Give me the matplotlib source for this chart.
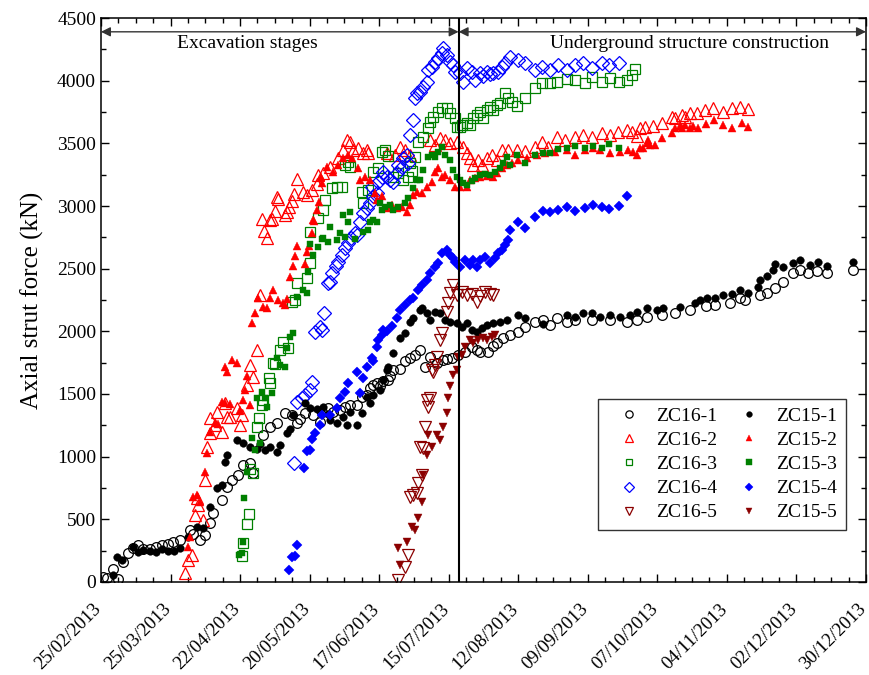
import datetime
import numpy as np
import matplotlib
matplotlib.use("Agg")
import matplotlib.pyplot as plt
import matplotlib.dates as mdates
from matplotlib.ticker import FixedLocator, MultipleLocator
from matplotlib.transforms import ScaledTranslation

plt.rcParams['font.family'] = ['Liberation Serif', 'DejaVu Serif']

# (days after 25/02/2013, axial force in kN)
zc16_1 = [(0.8, 40), (2.3, 34), (4.8, 104), (6.8, 20), (8.9, 160), (11, 230), (13, 270), (14.9, 295),
          (17, 260), (19.7, 263), (22, 280), (24.6, 295), (27, 300), (29, 320), (31.8, 335), (35.8, 415),
          (37, 380), (39.9, 335), (41.9, 375), (43.9, 470), (45.1, 550), (48.7, 655), (50.7, 760),
          (52.7, 815), (55.2, 855), (57.2, 935), (60, 950), (61.2, 870), (65.2, 1170), (68, 1240),
          (70.9, 1270), (74.1, 1350), (76.9, 1330), (78.9, 1270), (80.1, 1300), (82.1, 1350), (85.3, 1330),
          (88.2, 1280), (89, 1355), (91.4, 1390), (93.4, 1360), (96.2, 1370), (98.2, 1400), (100.2, 1410),
          (103.1, 1410), (105.1, 1475), (107.1, 1490), (108.3, 1550), (109.5, 1570), (111.1, 1590),
          (112.3, 1560), (113.5, 1600), (115.5, 1610), (116.3, 1640), (117.6, 1690), (120.4, 1700),
          (122.4, 1760), (124.4, 1790), (126.4, 1810), (128.4, 1850), (130.4, 1715), (132.5, 1795),
          (135.3, 1750), (137.7, 1770), (139.3, 1780), (141.3, 1790), (143.7, 1810), (146.5, 1835),
          (149.4, 1875), (151.4, 1850), (152.6, 1835), (155.8, 1835), (157.8, 1880), (159.4, 1905),
          (161.8, 1945), (164.7, 1970), (167.9, 1995), (170.7, 2035), (174.7, 2075), (177.9, 2090),
          (180.8, 2050), (183.6, 2105), (187.6, 2075), (190.8, 2090), (197.7, 2090), (204.9, 2090),
          (211.8, 2075), (215.8, 2090), (219.8, 2115), (225.9, 2130), (231.1, 2150), (237.1, 2170),
          (243.6, 2200), (247.2, 2210), (253.2, 2225), (257.3, 2265), (259.3, 2250), (265.3, 2290),
          (268.1, 2305), (271.3, 2345), (274.6, 2395), (278.6, 2465), (281.4, 2490), (284.6, 2465),
          (288.3, 2480), (292.3, 2465), (302.7, 2490)]

zc15_1 = [(4.8, 55), (6.4, 200), (8.5, 175), (12.9, 280), (14.9, 240), (16.9, 255), (19.7, 250),
          (22, 240), (24.6, 265), (27, 245), (29.5, 250), (31.8, 270), (35, 360), (38.6, 440),
          (41.1, 430), (43.9, 600), (46.7, 750), (48.7, 775), (49.9, 960), (50.7, 1010), (54.8, 1130),
          (57.2, 1110), (60, 1080), (62.8, 1060), (64, 1100), (66, 1050), (68, 1080), (70.9, 1040),
          (72.1, 1090), (74.9, 1190), (76.1, 1220), (77.3, 1330), (82.1, 1430), (84.1, 1390), (87, 1380),
          (89.4, 1400), (91.4, 1340), (92.2, 1290), (95, 1270), (97.4, 1320), (99, 1250), (100.2, 1355),
          (103.1, 1250), (105.1, 1350), (107.1, 1475), (108.3, 1430), (109.5, 1490), (112.3, 1530),
          (113.5, 1610), (115.1, 1690), (115.5, 1715), (117.6, 1825), (120.4, 1945), (122.4, 1990),
          (124.4, 2075), (125.6, 2105), (128.4, 2170), (129.2, 2185), (131.2, 2145), (132.5, 2090),
          (134.5, 2155), (136.5, 2145), (138.5, 2090), (140.5, 2075), (143.3, 2065), (145.3, 2035),
          (147.3, 2065), (149.4, 2010), (151.4, 1995), (153.4, 2025), (155.4, 2050), (157.8, 2065),
          (160.6, 2075), (163.5, 2090), (167.9, 2130), (170.7, 2105), (177.9, 2060), (187.6, 2130),
          (190.8, 2115), (194, 2145), (197.7, 2145), (200.9, 2115), (204.9, 2130), (208.9, 2115),
          (213, 2130), (215.8, 2155), (219.8, 2185), (223.8, 2170), (226.3, 2185), (233.1, 2195),
          (239.1, 2225), (241.1, 2250), (244, 2265), (247.2, 2265), (250.4, 2290), (254, 2300),
          (257.3, 2330), (260.5, 2305), (264.5, 2355), (265.3, 2410), (268.1, 2440), (270.5, 2490),
          (271.3, 2535), (274.6, 2515), (278.6, 2545), (281.4, 2570), (285.4, 2530), (288.7, 2555),
          (292.3, 2520), (302.7, 2555)]

zc16_2 = [(33.8, 70), (35, 175), (36.6, 215), (37.8, 535), (39, 615), (38.6, 670), (41.1, 495),
          (41.9, 815), (42.7, 1080), (43.9, 1190), (43.9, 1310), (45.9, 1250), (46.7, 1355), (48.7, 1200),
          (49.9, 1430), (50.7, 1320), (51.9, 1320), (54.8, 1390), (56, 1250), (56.8, 1330), (58.8, 1570),
          (60, 1730), (61.2, 1635), (62.8, 1850), (64, 2290), (65.6, 2800), (66.8, 2745), (64.8, 2895),
          (68, 2890), (68.8, 2900), (70, 2960), (70.9, 3070), (71.3, 3055), (74.1, 2930), (74.9, 2950),
          (75.7, 2990), (76.9, 3040), (77.7, 3095), (78.9, 3215), (81.3, 3110), (82.9, 3090),
          (84.9, 3130), (87, 3175), (87.4, 3250), (89.4, 3265), (92.2, 3310), (95.4, 3385), (97.4, 3450),
          (99, 3525), (100.2, 3510), (101.5, 3450), (103.5, 3465), (105.5, 3425), (107.1, 3450),
          (107.5, 3425), (115.1, 3425), (118.4, 3405), (120.4, 3470), (122.4, 3450), (124.4, 3405),
          (132.5, 3525), (134.5, 3490), (136.5, 3545), (138.5, 3525), (140.5, 3500), (143.3, 3510),
          (145.7, 3470), (147.3, 3425), (148.6, 3385), (149.8, 3325), (151.8, 3365), (153.4, 3325),
          (155.4, 3385), (157.4, 3405), (159.4, 3365), (161.4, 3450), (163.9, 3450), (167.5, 3450),
          (170.7, 3435), (174.7, 3470), (177.5, 3510), (180, 3470), (183.6, 3550), (186.8, 3525),
          (190.8, 3550), (194, 3565), (197.7, 3550), (201.7, 3580), (204.9, 3565), (208.1, 3590),
          (211.8, 3605), (213.8, 3590), (215.8, 3560), (217, 3620), (219, 3630), (222.2, 3640),
          (225.9, 3660), (229.9, 3710), (231.1, 3700), (233.9, 3725), (235.1, 3710), (237.1, 3740),
          (239.9, 3740), (243.2, 3765), (246.4, 3780), (250.4, 3750), (254, 3780), (257.3, 3790),
          (260.5, 3775)]

zc15_2 = [(35, 280), (35.8, 360), (37, 680), (38.6, 695), (39.9, 640), (41.9, 880), (42.7, 1030),
          (43.9, 1200), (45.9, 1270), (47.1, 1260), (48.7, 1435), (49.9, 1430), (51.9, 1420),
          (49.9, 1715), (50.7, 1675), (52.7, 1770), (54.8, 1745), (56, 1370), (57.2, 1450), (58, 1530),
          (58.8, 1640), (60, 1410), (60.8, 2065), (62, 2145), (63.2, 2265), (65.2, 2195), (66.8, 2190),
          (68, 2265), (69.2, 2330), (71.3, 2250), (73.3, 2225), (74.1, 2210), (74.9, 2260), (76.1, 2435),
          (77.3, 2520), (78.1, 2600), (78.9, 2680), (82.1, 2535), (82.9, 2635), (83.7, 2680),
          (84.9, 2785), (85.8, 2880), (87, 2970), (87.8, 3030), (85.3, 2890), (88.6, 3230), (89, 3180),
          (91, 3310), (93.4, 3270), (95.4, 3330), (97.4, 3385), (99.4, 3405), (101, 3385), (103.5, 3305),
          (104.3, 3210), (106.3, 3235), (108.3, 3210), (110.3, 3105), (111.1, 3050), (113.1, 3080),
          (115.1, 2985), (117.2, 3010), (119.2, 2985), (121.2, 2990), (123.2, 2955), (124.4, 3010),
          (125.6, 3090), (127.2, 3110), (129.2, 3100), (131.2, 3150), (133.3, 3190), (134.5, 3270),
          (135.7, 3305), (137.3, 3230), (138.5, 3245), (140.5, 3210), (142.5, 3150), (144.5, 3150),
          (147.3, 3150), (148.6, 3210), (150.6, 3220), (152.6, 3230), (155.4, 3240), (157.8, 3230),
          (159.4, 3265), (161.4, 3300), (163.5, 3325), (165.5, 3345), (167.9, 3365), (171.5, 3385),
          (175.5, 3405), (178.7, 3420), (182.8, 3430), (187.6, 3450), (190.8, 3405), (194.9, 3450),
          (198.1, 3460), (200.9, 3450), (204.9, 3425), (208.9, 3430), (212.2, 3450), (214.2, 3430),
          (215.8, 3405), (217, 3460), (218.2, 3465), (219.8, 3500), (220.2, 3525), (221, 3485),
          (223, 3485), (225.9, 3540), (229.9, 3580), (231.1, 3620), (233, 3640), (234, 3620),
          (235, 3645), (237, 3620), (238.5, 3640), (240.3, 3625), (243.6, 3655), (246.8, 3685),
          (250.4, 3645), (254, 3620), (258.1, 3660), (260.5, 3630)]

zc16_3 = [(56.8, 210), (57.2, 310), (58.8, 460), (59.6, 540), (61.2, 870), (60, 900), (62.8, 1240),
          (63.6, 1310), (64.8, 1410), (65.2, 1450), (67.6, 1625), (68, 1590), (69.2, 1745), (70, 1740),
          (72.1, 1850), (73.3, 1915), (75.3, 1865), (76.9, 2235), (78.1, 2250), (78.9, 2385),
          (82.9, 2425), (84.1, 2545), (84.1, 2795), (87.4, 2905), (89.4, 2970), (90.2, 3050), (93, 3145),
          (95, 3150), (97, 3150), (98.2, 3325), (99.4, 3350), (100.2, 3310), (105.1, 3110), (105.5, 3025),
          (107.5, 3130), (109.5, 3270), (111.5, 3300), (113.1, 3430), (114.3, 3445), (115.5, 3400),
          (117.6, 3230), (119.6, 3260), (121.6, 3210), (123.6, 3230), (125.2, 3280), (124.4, 3345),
          (126.4, 3390), (127.6, 3510), (129.6, 3550), (131.6, 3620), (132.5, 3670), (133.7, 3710),
          (135.7, 3750), (137.3, 3780), (139.3, 3780), (140.5, 3740), (142.5, 3700), (143.3, 3630),
          (144.5, 3630), (145.3, 3645), (147.3, 3660), (148.6, 3645), (149.8, 3700), (151.4, 3725),
          (152.6, 3750), (153.8, 3700), (155.4, 3765), (156.6, 3790), (157.8, 3765), (159.4, 3805),
          (160.6, 3820), (162.6, 3900), (163.9, 3860), (165.5, 3830), (167.5, 3800), (170.7, 3860),
          (174.7, 3940), (177.5, 3980), (180.8, 3980), (183.6, 3990), (187.6, 4015), (190.8, 4005),
          (194.9, 3980), (197.7, 4030), (201.7, 3990), (204.9, 4020), (208.5, 3990), (211.8, 4005),
          (213.8, 4045), (215, 4095)]

zc15_3 = [(55.6, 215), (56.8, 230), (57.2, 320), (57.6, 670), (58.8, 880), (60.8, 1150), (62, 1055),
          (64, 1110), (62.8, 1470), (64.8, 1515), (66, 1470), (66.8, 1395), (68.8, 1510), (70.9, 1790),
          (72.1, 1730), (74.1, 1715), (74.9, 1865), (76.1, 1955), (77.3, 1985), (78.9, 2275),
          (81.3, 2330), (82.9, 2305), (83.3, 2475), (84.1, 2700), (85.3, 2610), (87.4, 2675), (89, 2740),
          (89.4, 2745), (91.4, 2710), (92.2, 2830), (95, 2730), (96.2, 2785), (97.4, 2930), (98.2, 2755),
          (99.4, 2875), (100.2, 2955), (102.3, 2740), (105.5, 2790), (107.5, 2810), (108.3, 2870),
          (109.5, 2890), (111.1, 2870), (112.3, 3025), (113.1, 2970), (114.3, 2990), (116.3, 3010),
          (117.6, 2970), (119.6, 2990), (122.4, 3025), (123.6, 3065), (125.6, 3145), (127.2, 3210),
          (128.4, 3210), (129.6, 3290), (131.6, 3390), (133.3, 3405), (134.5, 3390), (135.7, 3430),
          (137.3, 3470), (138.5, 3405), (140.5, 3365), (141.7, 3290), (143.3, 3230), (144.5, 3210),
          (145.7, 3180), (147.3, 3170), (149.4, 3200), (150.6, 3225), (152.6, 3245), (154.6, 3255),
          (156.6, 3245), (158.6, 3270), (160.6, 3300), (161.8, 3345), (163.5, 3390), (164.7, 3330),
          (167.5, 3405), (170.7, 3345), (174.7, 3405), (177.9, 3425), (180.8, 3425), (184, 3455),
          (187.6, 3460), (190.8, 3480), (194.9, 3465), (198.1, 3480), (201.7, 3465), (204.5, 3495),
          (208.5, 3465)]

zc16_4 = [(77.7, 950), (78.9, 1435), (80.9, 1470), (82.1, 1490), (84.1, 1530), (84.9, 1595),
          (86.2, 1995), (88.2, 2035), (89, 2010), (89.8, 2145), (91.4, 2385), (92.2, 2395), (93, 2465),
          (94.6, 2520), (95.4, 2555), (97, 2610), (98.2, 2665), (99.4, 2705), (100.6, 2745),
          (102.3, 2785), (103.1, 2770), (104.3, 2875), (105.5, 2945), (107.1, 2985), (108.3, 3025),
          (109.1, 3150), (109.5, 3080), (111.1, 3105), (111.5, 3190), (113.1, 3230), (113.5, 3270),
          (115.1, 3230), (116.3, 3210), (117.6, 3190), (119.2, 3265), (119.6, 3325), (121.2, 3310),
          (121.6, 3385), (123.2, 3405), (123.6, 3345), (124.4, 3565), (125.6, 3685), (126.4, 3860),
          (127.2, 3900), (128.4, 3910), (129.6, 3950), (131.2, 3990), (131.6, 4085), (133.3, 4110),
          (134.5, 4150), (135.7, 4180), (137.3, 4220), (137.7, 4260), (139.3, 4205), (140.5, 4150),
          (141.7, 4125), (142.5, 4070), (144.5, 4060), (145.7, 3990), (147.3, 4100), (149.4, 4070),
          (150.6, 4005), (152.6, 4060), (153.8, 4040), (155.4, 4070), (156.6, 4050), (157.8, 4060),
          (159.8, 4070), (161.4, 4110), (162.6, 4140), (164.7, 4190), (167.9, 4165), (170.7, 4140),
          (174.7, 4085), (177.5, 4110), (180.8, 4085), (184, 4125), (187.6, 4085), (190.8, 4125),
          (194, 4140), (197.7, 4105), (201.7, 4140), (204.5, 4125), (208.5, 4140)]

zc15_4 = [(75.7, 95), (76.9, 200), (78.1, 210), (78.9, 295), (81.7, 910), (82.9, 1045), (84.1, 1050),
          (84.9, 1140), (86.2, 1190), (88.2, 1250), (89, 1330), (92.2, 1330), (95, 1390), (96.2, 1470),
          (98.2, 1515), (99.4, 1590), (103.1, 1675), (104.3, 1510), (105.5, 1630), (107.1, 1715),
          (109.1, 1790), (109.5, 1760), (111.1, 1875), (111.5, 1930), (113.1, 1970), (113.5, 2010),
          (115.1, 2000), (117.2, 2040), (119.2, 2105), (120.4, 2170), (122.4, 2210), (124.4, 2250),
          (125.6, 2265), (127.6, 2330), (129.2, 2370), (131.2, 2410), (132.5, 2465), (134.5, 2515),
          (135.7, 2545), (137.3, 2625), (139.3, 2650), (140.5, 2610), (141.7, 2585), (142.5, 2555),
          (144.5, 2515), (146.5, 2570), (148.6, 2530), (149.8, 2570), (151.4, 2515), (152.6, 2570),
          (154.6, 2595), (156.6, 2545), (158.6, 2585), (159.8, 2625), (161.4, 2650), (162.6, 2690),
          (163.9, 2730), (164.7, 2810), (167.9, 2870), (170.7, 2825), (174.7, 2915), (177.9, 2960),
          (180.8, 2950), (184, 2970), (187.6, 2990), (190.8, 2960), (194.9, 2985), (198.1, 3010),
          (201.7, 2995), (204.5, 2975), (208.5, 3000), (211.8, 3080)]

zc16_5 = [(119.6, 15), (122.4, 120), (123.6, 215), (124.4, 680), (125.6, 695), (127.2, 710),
          (127.6, 790), (128.4, 1080), (129.2, 855), (129.6, 1070), (130.4, 1240), (131.2, 1450),
          (131.6, 1400), (132.5, 1470), (133.3, 1690), (133.7, 1675), (134.5, 1730), (135.3, 1795),
          (136.5, 1930), (137.3, 1985), (139.3, 2155), (139.7, 2225), (140.5, 2305), (141.7, 2370),
          (143.3, 2290), (145.3, 2315), (147.3, 2290), (149.4, 2300), (151.4, 2235), (152.6, 2280),
          (154.6, 2315), (156.6, 2295), (157.8, 2290)]

zc15_5 = [(119.6, 270), (120.4, 135), (123.2, 320), (125.2, 440), (126.4, 415), (127.6, 510),
          (129.2, 640), (129.6, 855), (131.2, 1015), (131.6, 1175), (133.3, 1080), (135.3, 1175),
          (136.5, 1135), (137.7, 1240), (139.3, 1350), (139.7, 1470), (140.5, 1560), (141.7, 1650),
          (143.3, 1690), (143.7, 1795), (145.3, 1810), (146.5, 1875), (148.6, 1930), (149.8, 1910),
          (151.8, 1930), (153.8, 1945), (155.4, 1930), (157.4, 1955), (158.6, 1970)]

start = datetime.datetime(2013, 2, 25)
switch_day = 144          # end of excavation, 19/07/2013
n_days = 308              # axis ends on 30/12/2013

t0 = mdates.date2num(start)

# label, data, marker, colour, size, filled
series = [
    ('ZC16-1', zc16_1, 'o', 'black', 7.0, False),
    ('ZC16-2', zc16_2, '^', 'red', 8.5, False),
    ('ZC16-3', zc16_3, 's', 'green', 6.5, False),
    ('ZC16-4', zc16_4, 'D', 'blue', 7.0, False),
    ('ZC16-5', zc16_5, 'v', '#8b0000', 8.5, False),
    ('ZC15-1', zc15_1, 'o', 'black', 5.5, True),
    ('ZC15-2', zc15_2, '^', 'red', 6.0, True),
    ('ZC15-3', zc15_3, 's', 'green', 5.0, True),
    ('ZC15-4', zc15_4, 'D', 'blue', 5.0, True),
    ('ZC15-5', zc15_5, 'v', '#8b0000', 6.0, True),
]

fig = plt.figure(figsize=(8.69, 6.75), dpi=100)
ax = fig.add_axes([0.1162, 0.1378, 0.8803, 0.8355])

for label, pts, mk, col, ms, filled in series:
    d, f = zip(*pts)
    ax.plot(t0 + np.array(d), f, linestyle='none', marker=mk, markersize=ms,
            markeredgecolor=col, markerfacecolor=col if filled else 'none',
            markeredgewidth=0.3 if filled else 0.9, label=label)

x_switch = t0 + switch_day
ax.axvline(x_switch, color='black', lw=1.5)

# stage arrows
arrow_y = 4390
ax.annotate('', xy=(t0, arrow_y), xytext=(x_switch, arrow_y),
            arrowprops=dict(arrowstyle='<|-|>', color='#333333', lw=1.0,
                            mutation_scale=14, shrinkA=0, shrinkB=0))
ax.annotate('', xy=(x_switch, arrow_y), xytext=(t0 + n_days, arrow_y),
            arrowprops=dict(arrowstyle='<|-|>', color='#333333', lw=1.0,
                            mutation_scale=14, shrinkA=0, shrinkB=0))
ax.text(t0 + 59, 4295, 'Excavation stages', fontsize=14, ha='center', va='center')
ax.text(t0 + 237, 4300, 'Underground structure construction', fontsize=14, ha='center', va='center')

ax.set_xlim(t0, t0 + n_days)
ax.set_ylim(0, 4500)

ax.xaxis.set_major_locator(FixedLocator([t0 + 28 * k for k in range(12)]))
ax.xaxis.set_minor_locator(FixedLocator([t0 + 7 * k for k in range(45)]))
ax.xaxis.set_major_formatter(mdates.DateFormatter('%d/%m/%Y'))
ax.yaxis.set_major_locator(MultipleLocator(500))
ax.yaxis.set_minor_locator(MultipleLocator(250))

ax.tick_params(which='both', direction='in', top=True, right=True, labelsize=14)
ax.tick_params(axis='x', labelsize=13.5, pad=20)
ax.tick_params(which='major', length=6, width=1)
ax.tick_params(which='minor', length=3.5, width=1)
shift = ScaledTranslation(1 / 100, 0, fig.dpi_scale_trans)
for lab in ax.get_xticklabels():
    lab.set_rotation(45)
    lab.set_ha('right')
    lab.set_va('baseline')
    lab.set_rotation_mode('anchor')
    lab.set_transform(lab.get_transform() + shift)
for sp in ax.spines.values():
    sp.set_linewidth(1.1)

ax.set_ylabel('Axial strut force (kN)', fontsize=18, labelpad=9)

leg = ax.legend(ncol=2, loc='lower right', bbox_to_anchor=(0.974, 0.092), borderaxespad=0,
                fontsize=14, markerscale=0.75, frameon=True, fancybox=False, edgecolor='black',
                handlelength=2.3, handletextpad=0.25, columnspacing=0.5, labelspacing=0.33,
                borderpad=0.45)
leg.get_frame().set_linewidth(1.0)

fig.savefig('out.png', dpi=100)
